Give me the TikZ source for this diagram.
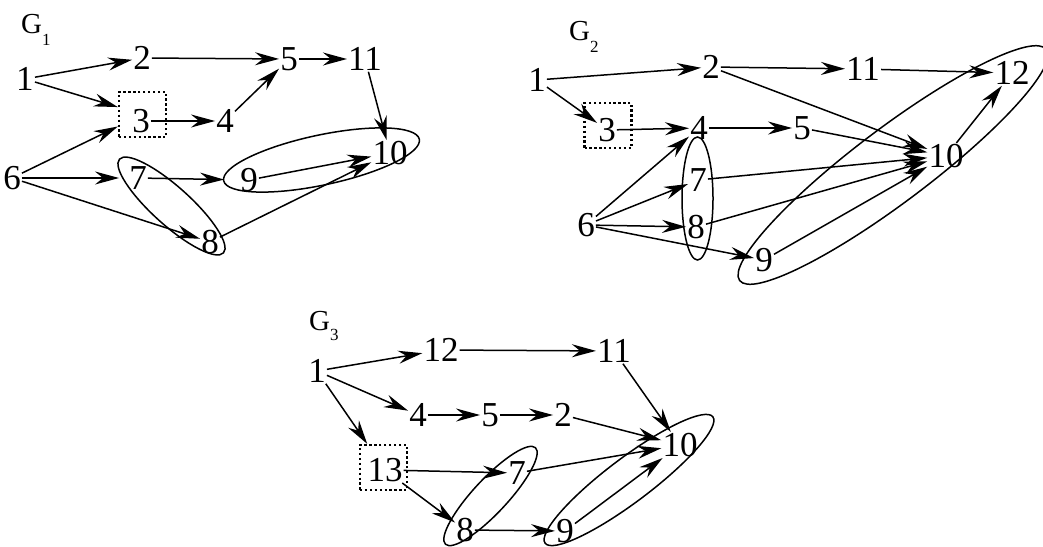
\documentclass[tikz,border=0pt]{standalone}
\usepackage{fontspec}
\setmainfont{Liberation Serif}
\newfontfamily\tnr{Liberation Serif}
\usetikzlibrary{arrows.meta}
\tikzset{
  v/.style={inner sep=1pt, font=\tnr\fontsize{35}{35}\selectfont},
  e/.style={-{Stealth[length=24pt,width=13pt,inset=8pt]}, line width=1.5pt},
  dotbox/.style={draw, line width=2.3pt, dash pattern=on 2.3pt off 2.6pt, minimum width=47pt, minimum height=45pt, inner sep=0pt},
  grp/.style={line width=1.5pt},
  glabel/.style={inner sep=0pt, anchor=base west, font=\tnr\fontsize{29}{29}\selectfont}
}
\newcommand{\gsub}[2]{G\raisebox{#1}{\fontsize{17}{17}\selectfont #2}}
\begin{document}
\begin{tikzpicture}[x=1pt,y=-1pt]
\useasboundingbox (0,0) rectangle (1043,546);
\clip (0,0) rectangle (1043,546);
% ---------------- G1 ----------------
\node[glabel] (g1) at (21,33) {\gsub{-12pt}{1}};
\node[v] (a1) at (25,79) {1};
\node[v] (a2) at (142,58) {2};
\node[v] (a5) at (289,59) {5};
\node[v] (a11) at (365,59) {11};
\node[v] (a3) at (141,121) {3};
\node[dotbox] (ab3) at (142.5,114.5) {};
\node[v] (a4) at (225,121) {4};
\node[v] (a6) at (12,178) {6};
\node[v] (a7) at (138,178) {7};
\node[v] (a9) at (249,180) {9};
\node[v] (a10) at (390,153) {10};
\node[v] (a8) at (210,242) {8};
\draw[grp, rotate around={-42:(171.5,206)}] (171.5,206) ellipse [x radius=70pt, y radius=19pt];
\draw[grp, rotate around={12:(321.5,160)}] (321.5,160) ellipse [x radius=100pt, y radius=25pt];
\draw[e] (a1) -- (a2);
\draw[e] (a1) -- (ab3);
\draw[e] (a2) -- (a5);
\draw[e] (a5) -- (a11);
\draw[e] (a3) -- (a4);
\draw[e] (a4) -- (a5);
\draw[e] (a11) -- (a10);
\draw[e] (a6) -- (ab3);
\draw[e, shorten >=9pt] (a6) -- (a7);
\draw[e] (a6) -- (a8);
\draw[e, shorten >=15pt] (a7) -- (a9);
\draw[e] (a9) -- (a10);
\draw[e] (a8) -- (a10);
% ---------------- G2 ----------------
\node[glabel] (g2) at (569,40) {\gsub{-12pt}{2}};
\node[v] (b1) at (537,80) {1};
\node[v] (b2) at (711,67) {2};
\node[v] (b11) at (863,69) {11};
\node[v] (b12) at (1012,73) {12};
\node[v] (b3) at (607,130) {3};
\node[dotbox] (bb3) at (608,125.5) {};
\node[v] (b4) at (699,128) {4};
\node[v] (b5) at (802,128) {5};
\node[v] (b10) at (946,156) {10};
\node[v] (b7) at (698,180) {7};
\node[v] (b8) at (696,227) {8};
\node[v] (b6) at (586,225) {6};
\node[v] (b9) at (764,260) {9};
\draw[grp] (697.5,198.5) ellipse [x radius=15.5pt, y radius=61.5pt];
\draw[grp, rotate around={37:(893,165)}] (893,165) ellipse [x radius=192pt, y radius=37pt];
\draw[e] (b1) -- (b2);
\draw[e] (b1) -- (b3);
\draw[e] (b2) -- (b11);
\draw[e] (b11) -- (b12);
\draw[e] (b2) -- (b10);
\draw[e] (b3) -- (b4);
\draw[e] (b4) -- (b5);
\draw[e] (b5) -- (b10);
\draw[e] (b6) -- (b4);
\draw[e] (b6) -- (b7);
\draw[e] (b6) -- (b8);
\draw[e] (b6) -- (b9);
\draw[e] (b7) -- (b10);
\draw[e] (b8) -- (b10);
\draw[e] (b9) -- (b10);
\draw[e] (b10) -- (b12);
% ---------------- G3 ----------------
\node[glabel] (g3) at (309,330) {\gsub{-10pt}{3}};
\node[v] (c1) at (317,371) {1};
\node[v] (c12) at (441,350) {12};
\node[v] (c11) at (614,351) {11};
\node[v] (c4) at (418,415) {4};
\node[v] (c5) at (490,415) {5};
\node[v] (c2) at (563,415) {2};
\node[v] (c10) at (680,445) {10};
\node[v] (c13) at (385,470) {13};
\node[dotbox] (cb13) at (383.5,467.5) {};
\node[v] (c7) at (517,473) {7};
\node[v] (c8) at (465,530) {8};
\node[v] (c9) at (565,531) {9};
\draw[grp, rotate around={47:(490.5,496)}] (490.5,496) ellipse [x radius=66pt, y radius=17pt];
\draw[grp, rotate around={37:(629,480)}] (629,480) ellipse [x radius=105pt, y radius=22pt];
\draw[e] (c1) -- (c12);
\draw[e] (c12) -- (c11);
\draw[e] (c1) -- (c4);
\draw[e] (c1) -- (cb13);
\draw[e] (c4) -- (c5);
\draw[e] (c5) -- (c2);
\draw[e] (c11) -- (c10);
\draw[e] (c2) -- (c10);
\draw[e] (c13) -- (c7);
\draw[e] (c13) -- (c8);
\draw[e] (c7) -- (c10);
\draw[e] (c8) -- (c9);
\draw[e] (c9) -- (c10);
\end{tikzpicture}
\end{document}
